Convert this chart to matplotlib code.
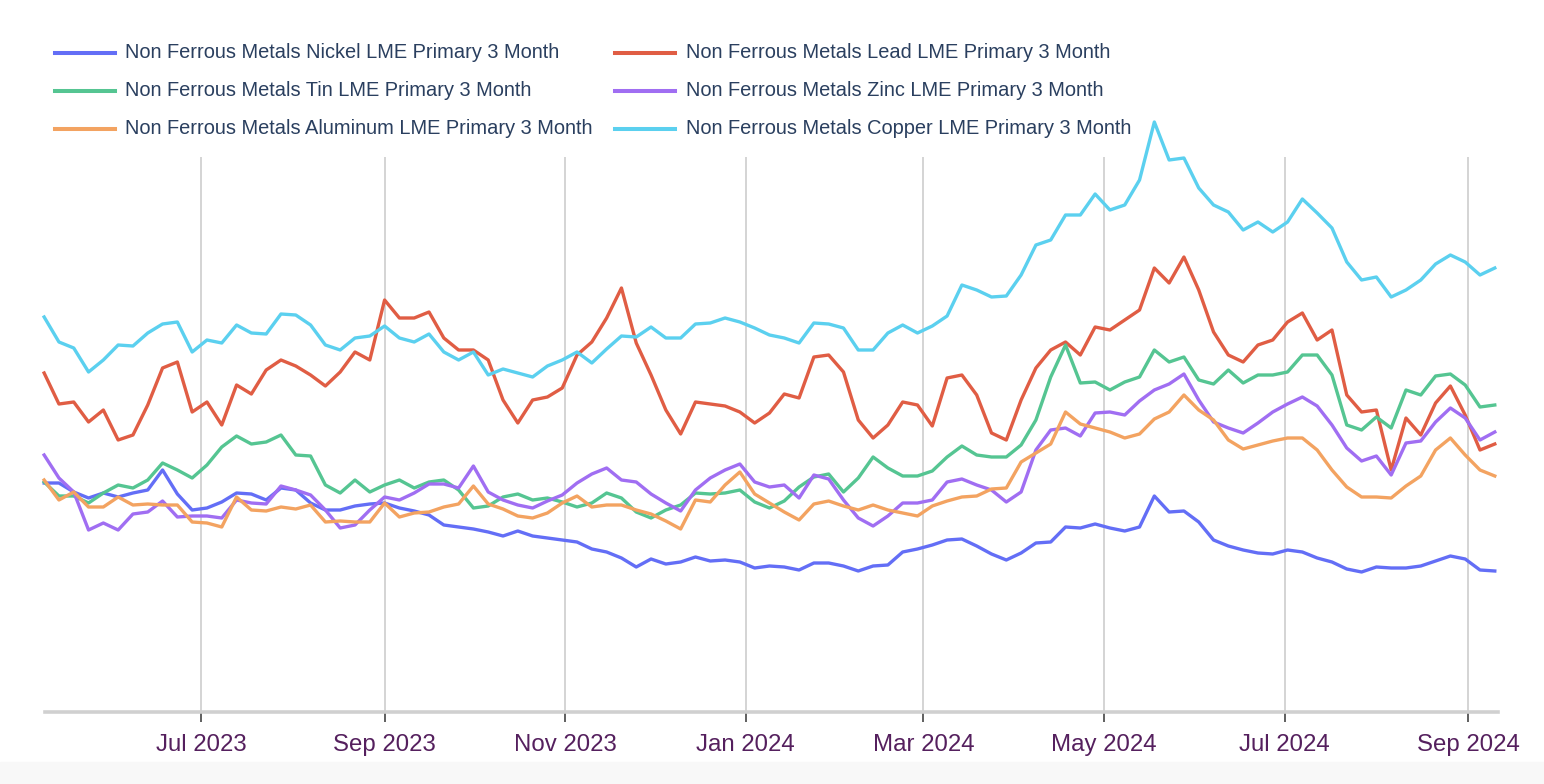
import matplotlib
matplotlib.use('Agg')
import matplotlib.pyplot as plt
import matplotlib.dates as mdates
from matplotlib.lines import Line2D
from matplotlib.patches import Rectangle
import pandas as pd
from datetime import datetime

plt.rcParams['font.family'] = ['Liberation Sans', 'DejaVu Sans']

# sampled every 5 days, rebased index (no y scale shown in the source chart)
dates = pd.date_range('2023-05-09', periods=99, freq='5D')

nickel = [229, 229, 220, 214, 219, 215, 219, 222, 242, 218,
          202, 204, 210, 219, 218, 212, 224, 222, 209, 202,
          202, 206, 208, 209, 204, 201, 197, 187, 185, 183,
          180, 176, 181, 176, 174, 172, 170, 163, 160, 154,
          145, 153, 148, 150, 155, 151, 152, 150, 144, 146,
          145, 142, 149, 149, 146, 141, 146, 147, 160, 163,
          167, 172, 173, 166, 158, 152, 159, 169, 170, 185,
          184, 188, 184, 181, 185, 216, 200, 201, 190, 172,
          166, 162, 159, 158, 162, 160, 154, 150, 143, 140,
          145, 144, 144, 146, 151, 156, 153, 142, 141]

lead = [339, 308, 310, 290, 302, 272, 277, 307, 344, 350,
        300, 310, 287, 327, 318, 342, 352, 346, 337, 326,
        340, 360, 352, 412, 394, 394, 400, 374, 362, 362,
        352, 312, 289, 312, 315, 324, 357, 370, 394, 424,
        369, 337, 302, 278, 310, 308, 306, 300, 289, 299,
        318, 314, 355, 357, 340, 292, 274, 287, 310, 307,
        286, 334, 337, 317, 279, 272, 312, 344, 362, 370,
        357, 385, 382, 392, 402, 444, 429, 455, 422, 380,
        357, 350, 367, 372, 390, 399, 372, 382, 317, 300,
        302, 242, 294, 277, 309, 326, 297, 262, 268]

tin = [230, 216, 216, 209, 219, 227, 224, 232, 249, 242,
       234, 247, 265, 276, 268, 270, 277, 257, 256, 227,
       219, 232, 220, 227, 232, 224, 230, 232, 222, 204,
       206, 215, 218, 212, 214, 210, 205, 209, 219, 214,
       200, 194, 202, 207, 219, 218, 219, 222, 210, 204,
       211, 225, 235, 238, 220, 234, 255, 244, 236, 236,
       241, 255, 266, 257, 255, 255, 267, 292, 335, 367,
       329, 330, 322, 330, 335, 362, 350, 355, 332, 328,
       342, 329, 337, 337, 340, 357, 357, 337, 287, 282,
       295, 284, 322, 317, 336, 338, 327, 305, 307]

zinc = [257, 234, 220, 182, 189, 182, 198, 200, 211, 195,
        196, 196, 194, 212, 209, 208, 226, 222, 217, 202,
        184, 187, 202, 215, 212, 219, 228, 228, 224, 246,
        220, 212, 207, 204, 211, 217, 229, 238, 244, 232,
        230, 218, 209, 201, 222, 234, 242, 248, 230, 225,
        227, 214, 237, 233, 212, 194, 186, 196, 209, 209,
        212, 230, 233, 227, 222, 210, 220, 262, 282, 284,
        276, 299, 300, 297, 311, 322, 328, 338, 312, 290,
        284, 279, 289, 300, 308, 315, 306, 287, 264, 251,
        256, 237, 269, 271, 290, 304, 294, 272, 280]

aluminum = [232, 212, 220, 205, 205, 215, 207, 208, 207, 207,
            190, 189, 185, 215, 202, 201, 205, 203, 207, 190,
            191, 190, 190, 209, 195, 199, 200, 205, 208, 226,
            208, 203, 196, 194, 199, 209, 216, 205, 207, 207,
            202, 198, 191, 183, 212, 210, 227, 240, 218, 209,
            200, 192, 208, 211, 206, 202, 207, 202, 199, 196,
            206, 211, 215, 216, 223, 224, 250, 259, 268, 300,
            288, 284, 280, 274, 278, 293, 300, 317, 302, 292,
            272, 263, 267, 271, 274, 274, 262, 242, 225, 215,
            215, 214, 226, 236, 262, 274, 257, 242, 236]

copper = [395, 370, 364, 340, 352, 367, 366, 379, 388, 390,
          360, 372, 369, 387, 379, 378, 398, 397, 387, 367,
          362, 374, 376, 386, 374, 370, 378, 360, 352, 360,
          337, 343, 339, 335, 346, 352, 360, 349, 363, 376,
          375, 385, 374, 374, 388, 389, 394, 390, 384, 377,
          374, 369, 389, 388, 384, 362, 362, 379, 387, 379,
          386, 396, 427, 422, 415, 416, 437, 467, 472, 497,
          497, 518, 502, 507, 532, 590, 552, 554, 524, 507,
          500, 482, 490, 480, 490, 513, 499, 484, 450, 432,
          435, 415, 422, 432, 448, 457, 450, 437, 444]

names = ['Nickel', 'Lead', 'Tin', 'Zinc', 'Aluminum', 'Copper']
series = [nickel, lead, tin, zinc, aluminum, copper]
colors = ['#636ef6', '#e05d44', '#55c592', '#a06ef2', '#f3a361', '#5bd0ef']

W, H = 1544, 784
fig = plt.figure(figsize=(W / 100, H / 100), dpi=100)
fig.add_artist(Rectangle((0, 0), 1, 22 / H, transform=fig.transFigure,
                         color='#f8f8f8', zorder=0))

ax = fig.add_axes([45 / W, 1 - 712 / H, (1498 - 45) / W, (712 - 157) / H])
ax.patch.set_alpha(0)

for name, vals, c in zip(names, series, colors):
    ax.plot(dates, vals, color=c, lw=2.4, clip_on=False,
            solid_joinstyle='round', zorder=3)

ax.set_xlim(datetime(2023, 5, 9, 7), datetime(2024, 9, 11, 2))
ax.set_ylim(0, 555)
ax.set_yticks([])

ax.xaxis.set_major_locator(mdates.MonthLocator(bymonth=[1, 3, 5, 7, 9, 11]))
ax.xaxis.set_major_formatter(mdates.DateFormatter('%b %Y'))
ax.tick_params(axis='x', direction='out', length=7.5, width=1.2,
               color='#444444', pad=8, labelsize=17.3, labelcolor='#55205e')

for s in ['left', 'right', 'top']:
    ax.spines[s].set_visible(False)
ax.spines['bottom'].set_color('#d0d0d0')
ax.spines['bottom'].set_linewidth(2.6)

ax.grid(axis='x', color='#d4d4d4', linewidth=1.4)
ax.set_axisbelow(True)

# legend, two columns
order = [0, 2, 4, 1, 3, 5]
rows_y = [53, 91, 129]
cols_x = [(55, 115, 125), (615, 675, 686)]
for k, idx in enumerate(order):
    col = k // 3
    row = k % 3
    x0, x1, xt = cols_x[col]
    yy = 1 - rows_y[row] / H
    fig.add_artist(Line2D([x0 / W, x1 / W], [yy, yy], transform=fig.transFigure,
                          color=colors[idx], lw=2.9))
    fig.text(xt / W, yy, 'Non Ferrous Metals %s LME Primary 3 Month' % names[idx],
             va='center', ha='left', fontsize=14.4, color='#2a3f5f')

fig.savefig('out.png', dpi=100)
